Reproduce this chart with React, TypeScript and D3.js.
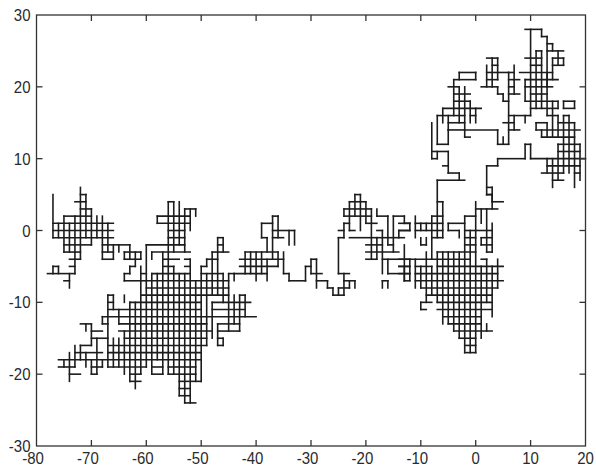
import React, { useEffect, useRef } from "react";
import * as d3 from "d3";

const xTicks = [-80, -70, -60, -50, -40, -30, -20, -10, 0, 10, 20];
const yTicks = [-30, -20, -10, 0, 10, 20, 30];

// horizontal lattice runs: [y, x0, x1]
const horizontalRunsLeft: number[][] = [
  [5,-72,-71],[4,-73,-71],[3,-72,-70],[2,-75,-70],[1,-77,-66],[0,-77,-66],[-1,-77,-66],
  [-2,-75,-70],[-2,-68,-63],[-2,-60,-53],[-3,-75,-72],[-3,-68,-66],[-3,-64,-61],[-3,-59,-52],
  [-4,-74,-72],[-4,-68,-66],[-4,-64,-61],[-5,-77,-76],[-5,-74,-73],[-5,-63,-62],
  [-6,-78,-73],[-6,-64,-63],[-6,-61,-60],[-7,-75,-74],[-7,-64,-60],
  [-6,-59,-52],[-7,-60,-45],[-8,-60,-45],[-9,-61,-45],[-9,-67,-66],[-10,-67,-66],[-10,-63,-50],[-10,-48,-41],
  [-11,-67,-50],[-11,-48,-42],[-12,-68,-50],[-12,-50,-40],[-13,-72,-70],[-13,-68,-67],[-13,-65,-49],[-13,-47,-43],
  [-14,-70,-68],[-14,-65,-48],[-14,-47,-43],[-15,-70,-67],[-15,-64,-49],[-15,-47,-46],
  [-16,-72,-70],[-16,-67,-49],[-16,-47,-46],[-17,-73,-68],[-17,-67,-50],[-18,-76,-50],
  [-19,-76,-73],[-19,-70,-68],[-19,-67,-60],[-19,-59,-57],[-19,-56,-51],
  [-20,-74,-72],[-20,-70,-69],[-20,-63,-61],[-20,-59,-57],[-20,-56,-51],[-21,-63,-61],
  [-21,-54,-50],[-22,-54,-52],[-23,-54,-52],[-24,-53,-51],
  [4,-56,-55],[3,-53,-51],[2,-58,-52],[1,-58,-52],[0,-56,-53],[-1,-56,-53],
  [-4,-57,-54],[-4,-53,-52],[-5,-57,-55],[-5,-53,-52],[-5,-50,-49],[-6,-50,-46],
  [-4,-49,-47],[-3,-48,-45],[-2,-47,-46],[-1,-47,-46],[-6,-45,-44],[-9,-43,-42],
];

const horizontalRunsMiddle: number[][] = [
  [2,-37,-36],[1,-39,-37],[0,-37,-33],[-1,-39,-38],[-1,-37,-35],
  [-3,-42,-36],[-4,-43,-35],[-5,-43,-36],[-6,-44,-38],[-6,-35,-34],
  [-7,-34,-31],[-5,-31,-30],[-4,-30,-29],[-6,-30,-28],[-7,-29,-27],[-8,-27,-26],
  [-9,-26,-24],[-8,-25,-23],[-6,-25,-23],[-7,-24,-22],[-1,-25,-24],[0,-25,-24],
  [5,-22,-21],[4,-23,-20],[3,-24,-19],[2,-24,-19],[2,-18,-16],[1,-24,-23],[0,-23,-22],
  [-1,-23,-18],[1,-20,-18],[2,-15,-13],[1,-13,-12],[0,-14,-12],[0,-18,-17],[-1,-18,-13],
  [-2,-20,-17],[-2,-16,-15],[-3,-20,-14],[-4,-20,-18],[-4,-17,-12],[-5,-14,-12],[-6,-16,-12],
  [-7,-13,-12],[-7,-17,-16],
];

const horizontalRunsRight: number[][] = [
  [5,2,3],[4,3,5],[4,-7,-6],[3,0,4],[2,-8,-6],[2,-2,0],[1,-14,-12],[1,-11,-6],[1,-5,-2],
  [0,-14,-12],[0,-11,-6],[0,-5,-3],[0,-2,3],[-1,-8,-6],[-1,-2,0],[-1,1,3],[-2,-10,-9],[-2,-2,0],[-2,1,3],
  [-3,-7,0],[-3,2,3],[-4,-14,-1],[-4,1,2],[-5,-14,-12],[-5,-11,-8],[-5,-7,5],[-6,-14,-12],[-6,-11,4],[-7,-11,5],
  [-8,-10,4],[-9,-9,3],[-10,-10,-8],[-10,-7,3],[-11,-10,-9],[-11,-7,3],[-12,-6,1],[-13,-5,1],
  [-14,-4,3],[-15,-3,0],[-16,-2,0],[-17,-2,0],
  [28,9,12],[27,12,13],[26,13,14],[25,11,12],[25,13,16],[24,9,12],[24,14,16],[24,2,4],[23,10,12],[23,14,16],[23,3,4],
  [22,8,14],[22,-3,0],[22,2,6],[22,6,7],[21,9,15],[21,-4,0],[21,2,4],[21,6,8],[20,9,14],[20,-5,-3],[20,1,4],[20,6,7],
  [19,10,13],[19,-4,-1],[19,4,5],[19,6,8],[18,9,15],[18,-4,-1],[18,5,6],[18,16,18],[17,10,15],[17,16,18],[17,-6,1],
  [16,-7,-2],[16,-1,0],[16,6,10],[16,13,15],[16,16,17],[15,-5,-2],[15,5,7],[15,11,13],[15,15,18],
  [14,-5,-2],[14,-2,4],[14,6,8],[14,11,19],[13,-2,-1],[13,12,18],[12,-7,-5],[12,4,6],[12,9,10],[12,15,19],
  [11,-8,-5],[11,15,19],[10,-8,-7],[10,4,9],[10,10,20],[9,-6,-5],[9,2,4],[9,13,19],[8,-5,-3],[8,12,16],[8,18,19],
  [7,-7,-2],[7,14,16],[6,2,3],[5,2,3],
];

// vertical lattice runs: [x, y0, y1]
const verticalRunsLeft: number[][] = [
  [-77,5,-1],[-76,1,-1],[-75,2,-3],[-74,1,-3],[-74,-6,-8],[-73,2,-6],[-72,6,-4],[-71,5,-1],[-70,3,-2],[-69,2,-1],
  [-68,2,-4],[-67,1,-3],[-66,-2,-4],[-65,-2,-3],[-64,-3,-4],[-64,-6,-7],[-63,-2,-4],[-63,-5,-6],[-62,-3,-5],[-61,-3,-4],
  [-60,-2,-19],[-77,-5,-6],[-76,-5,-6],
  [-75,-18,-19],[-74,-17,-21],[-73,-16,-19],[-72,-16,-18],[-71,-13,-14],[-71,-17,-19],[-70,-13,-16],[-70,-18,-20],
  [-69,-15,-20],[-68,-12,-13],[-68,-18,-19],[-67,-9,-19],[-66,-9,-11],[-66,-15,-19],[-65,-11,-13],[-65,-15,-19],
  [-64,-9,-10],[-64,-14,-20],[-63,-10,-21],[-62,-10,-22],[-61,-5,-20],
  [-59,-3,-4],[-59,-6,-20],[-58,2,1],[-58,-6,-18],[-57,-3,-20],[-56,4,-20],[-55,4,-3],[-55,-5,-20],
  [-54,4,-2],[-54,-6,-23],[-53,3,-3],[-53,-6,-24],[-52,3,0],[-52,-4,-24],[-51,3,2],[-51,-7,-21],[-50,-5,-21],
  [-49,-4,-5],[-49,-6,-16],[-48,-3,-9],[-48,-10,-15],[-47,-1,-9],[-47,-13,-16],[-46,-1,-3],[-46,-6,-10],[-46,-15,-16],
  [-45,-6,-14],[-44,-6,-7],[-44,-9,-13],[-43,-9,-14],[-42,-3,-6],[-42,-9,-12],[-41,-3,-6],[-40,-3,-7],
];

const verticalRunsMiddle: number[][] = [
  [-39,1,-1],[-39,-3,-6],[-38,-1,-3],[-38,-4,-7],[-37,2,-4],[-36,2,-1],[-36,-3,-5],[-35,-3,-6],[-34,0,-2],[-34,-6,-7],
  [-33,0,-2],[-31,-5,-7],[-30,-4,-6],[-29,-4,-8],[-27,-7,-8],[-26,-8,-9],[-25,-8,-9],[-25,-1,-6],[-24,1,-1],[-24,3,2],
  [-24,-6,-9],[-23,-7,-8],[-23,4,0],[-22,-7,-8],[-22,5,2],[-21,5,0],[-20,4,1],[-19,3,-4],[-18,3,2],[-18,-1,-4],
  [-17,0,-6],[-17,-7,-8],[-16,2,-2],[-16,-4,-6],[-16,-7,-8],[-15,2,-3],[-14,0,-1],[-13,2,1],[-13,-5,-7],[-12,1,0],[-12,-4,-7],
];

const verticalRunsRight: number[][] = [
  [-7,7,-1],[-7,-3,-10],[-6,4,-1],[-6,-3,-13],[-8,2,-4],[-8,-5,-9],[-9,1,0],[-9,-1,-2],[-9,-3,-10],[-10,1,0],[-10,-1,-2],
  [-10,-5,-8],[-10,-10,-11],[-11,2,-1],[-11,-4,-8],[-13,-2,-7],[-5,1,0],[-5,-3,-13],[-4,-3,-14],[-3,0,-1],[-3,-3,-15],
  [-2,2,-17],[-1,0,-17],[0,4,-17],[1,3,1],[1,-1,-2],[1,-5,-15],[2,3,-3],[2,-4,-10],[2,-13,-14],[3,5,3],[3,1,-3],[3,-5,-12],[4,-4,-8],
  [10,28,16],[12,28,27],[13,27,20],[14,26,25],[11,25,17],[12,25,17],[15,25,23],[16,24,23],[14,24,21],[9,21,18],[13,22,16],
  [15,18,17],[14,18,13],[15,16,13],[16,16,8],[17,16,8],[18,15,6],[19,12,7],[16,18,17],[18,18,17],
  [11,15,14],[12,14,13],[13,15,13],[14,10,6],[13,10,8],[15,12,7],
  [-3,22,21],[0,22,21],[-4,21,16],[-3,20,15],[-2,20,13],[-1,18,15],[0,17,15],[-5,16,14],[-6,17,15],[-7,16,12],[-5,14,12],
  [-8,15,10],[-7,11,10],[-5,11,8],[-3,8,7],[2,9,5],[3,6,5],[3,5,4],[4,14,12],[5,13,12],[6,22,12],[3,24,20],[2,23,20],[4,24,21],[4,20,19],
  [5,19,18],[7,23,21],[7,21,19],[7,16,14],[9,16,15],[9,12,10],[10,12,10],[4,10,9],
];

const allHorizontal = [...horizontalRunsLeft, ...horizontalRunsMiddle, ...horizontalRunsRight];
const allVertical = [...verticalRunsLeft, ...verticalRunsMiddle, ...verticalRunsRight];

export default function App() {
  const ref = useRef<SVGSVGElement>(null);
  useEffect(() => {
    const svg = d3.select(ref.current);
    svg.selectAll("*").remove();
    const left = 36.5, right = 585.5, top = 15, bottom = 446;
    const x = d3.scaleLinear().domain([-80, 20]).range([left, right]);
    const y = d3.scaleLinear().domain([-30, 30]).range([bottom, top]);
    const lineColor = "#1c1c1c";

    const marks = svg.append("g").attr("fill", "none").attr("stroke", lineColor)
      .attr("stroke-width", 1.6).attr("stroke-linecap", "square");
    marks.selectAll("line.h").data(allHorizontal).join("line").attr("class", "h")
      .attr("x1", (d) => x(d[1])).attr("x2", (d) => x(d[2]))
      .attr("y1", (d) => y(d[0])).attr("y2", (d) => y(d[0]));
    marks.selectAll("line.v").data(allVertical).join("line").attr("class", "v")
      .attr("x1", (d) => x(d[0])).attr("x2", (d) => x(d[0]))
      .attr("y1", (d) => y(d[1])).attr("y2", (d) => y(d[2]));

    const axisColor = "#333";
    const frame = svg.append("g").attr("stroke", axisColor).attr("stroke-width", 1.3).attr("fill", "none");
    frame.append("rect").attr("x", left).attr("y", top).attr("width", right - left).attr("height", bottom - top);
    const tickLen = 6;
    xTicks.slice(1, -1).forEach((t) => {
      frame.append("line").attr("x1", x(t)).attr("x2", x(t)).attr("y1", bottom).attr("y2", bottom - tickLen);
      frame.append("line").attr("x1", x(t)).attr("x2", x(t)).attr("y1", top).attr("y2", top + tickLen);
    });
    yTicks.slice(1, -1).forEach((t) => {
      frame.append("line").attr("x1", left).attr("x2", left + tickLen).attr("y1", y(t)).attr("y2", y(t));
      frame.append("line").attr("x1", right).attr("x2", right - tickLen).attr("y1", y(t)).attr("y2", y(t));
    });

    const labels = svg.append("g").attr("font-family", "'Liberation Sans', Arial, sans-serif")
      .attr("font-size", 15).attr("fill", "#2a2a2a");
    xTicks.forEach((t) => {
      labels.append("text").text(String(t)).attr("text-anchor", "middle")
        .attr("transform", `translate(${x(t) - (t < 0 ? 3.5 : 0)},464) scale(1,1.12)`);
    });
    yTicks.forEach((t) => {
      labels.append("text").text(String(t)).attr("text-anchor", "end")
        .attr("transform", `translate(30.5,${y(t) + 6}) scale(1,1.12)`);
    });
  }, []);
  return (
    <svg ref={ref} width={596} height={467}
      style={{ position: "absolute", left: 0, top: 0, background: "#fff", display: "block" }} />
  );
}
